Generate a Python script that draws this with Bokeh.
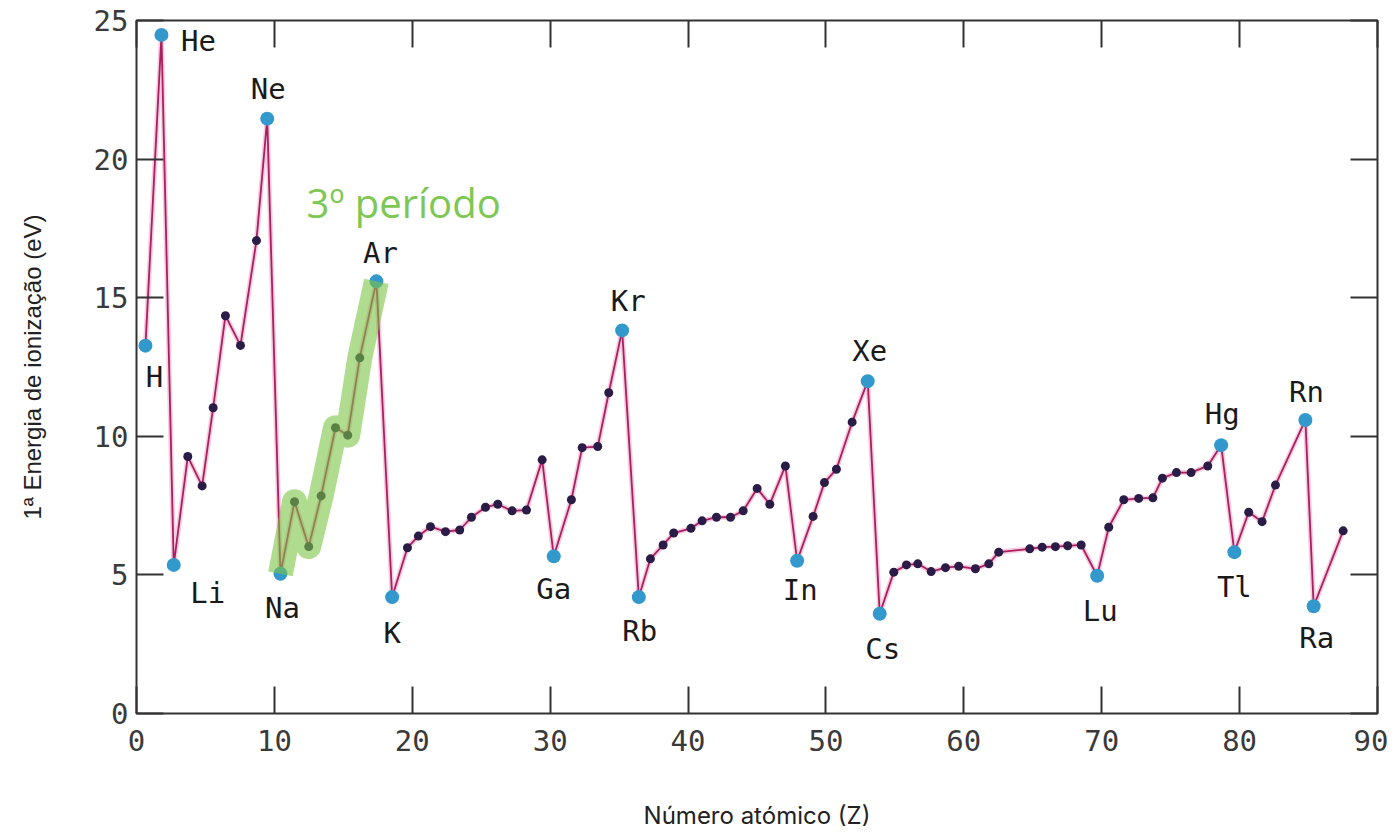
from bokeh.plotting import figure
from bokeh.models import ColumnDataSource, Label, LinearAxis, FixedTicker, Range1d
from bokeh.core.properties import value
from bokeh.embed import file_html
from bokeh.resources import INLINE

# ---------------- data ----------------
simbolos = ["H", "He", "Li", "Be", "B", "C", "N", "O", "F", "Ne",
            "Na", "Mg", "Al", "Si", "P", "S", "Cl", "Ar", "K", "Ca",
            "Sc", "Ti", "V", "Cr", "Mn", "Fe", "Co", "Ni", "Cu", "Zn",
            "Ga", "Ge", "As", "Se", "Br", "Kr", "Rb", "Sr", "Y", "Zr",
            "Nb", "Mo", "Tc", "Ru", "Rh", "Pd", "Ag", "Cd", "In", "Sn",
            "Sb", "Te", "I", "Xe", "Cs", "Ba", "La", "Ce", "Pr", "Nd",
            "Pm", "Sm", "Eu", "Gd", "Tb", "Dy", "Ho", "Er", "Tm", "Lu",
            "Hf", "Ta", "W", "Re", "Os", "Ir", "Pt", "Au", "Hg", "Tl",
            "Pb", "Bi", "Po", "Rn", "Ra", "Ac"]

numero_atomico = [0.65, 1.81, 2.70, 3.72, 4.76, 5.56, 6.45, 7.54, 8.70, 9.48,
                  10.44, 11.46, 12.49, 13.39, 14.43, 15.32, 16.19, 17.40, 18.54, 19.65,
                  20.44, 21.32, 22.41, 23.44, 24.29, 25.31, 26.20, 27.24, 28.28, 29.42,
                  30.26, 31.54, 32.32, 33.45, 34.25, 35.22, 36.43, 37.27, 38.19, 38.96,
                  40.21, 41.02, 42.06, 43.08, 44.00, 45.01, 45.93, 47.06, 47.91, 49.07,
                  49.89, 50.76, 51.90, 53.03, 53.90, 54.92, 55.84, 56.66, 57.63, 58.67,
                  59.63, 60.84, 61.81, 62.53, 64.78, 65.68, 66.64, 67.53, 68.51, 69.67,
                  70.51, 71.60, 72.68, 73.71, 74.40, 75.42, 76.48, 77.69, 78.66, 79.62,
                  80.66, 81.63, 82.60, 84.77, 85.37, 87.51]

energia_ev = [13.27, 24.48, 5.36, 9.27, 8.21, 11.03, 14.35, 13.28, 17.06, 21.46,
              5.04, 7.64, 6.02, 7.85, 10.31, 10.04, 12.83, 15.59, 4.20, 5.98,
              6.40, 6.74, 6.56, 6.62, 7.08, 7.44, 7.55, 7.31, 7.34, 9.15,
              5.67, 7.71, 9.59, 9.63, 11.57, 13.82, 4.20, 5.58, 6.08, 6.51,
              6.68, 6.95, 7.08, 7.08, 7.31, 8.12, 7.55, 8.93, 5.51, 7.11,
              8.33, 8.81, 10.51, 11.99, 3.60, 5.10, 5.36, 5.40, 5.12, 5.26,
              5.31, 5.22, 5.40, 5.82, 5.94, 6.00, 6.02, 6.05, 6.08, 4.97,
              6.72, 7.71, 7.76, 7.78, 8.49, 8.69, 8.69, 8.93, 9.68, 5.82,
              7.26, 6.92, 8.24, 10.59, 3.87, 6.59]

rotulados = ["H", "He", "Li", "Ne", "Na", "Ar", "K", "Ga", "Kr", "Rb",
             "In", "Xe", "Cs", "Lu", "Hg", "Tl", "Rn", "Ra"]

terceiro_periodo = ["Na", "Mg", "Al", "Si", "P", "S", "Cl", "Ar"]

x_ticks = [0, 10, 20, 30, 40, 50, 60, 70, 80, 90]
y_ticks = [0, 5, 10, 15, 20, 25]

# label placement (screen px offsets from the point)
desloc_rotulo = {"H": (9, 31), "He": (37, 6), "Li": (34, 28), "Ne": (1, -30),
                 "Na": (2, 34), "Ar": (4, -28), "K": (0, 36), "Ga": (0, 33),
                 "Kr": (6, -29), "Rb": (1, 34), "In": (3, 29), "Xe": (2, -30),
                 "Cs": (3, 35), "Lu": (3, 35), "Hg": (1, -31), "Tl": (0, 35),
                 "Rn": (1, -28), "Ra": (3, 32)}

# ---------------- figure ----------------
p = figure(width=1388, height=832, x_range=Range1d(0, 90), y_range=Range1d(0, 25),
           output_backend="svg", toolbar_location=None,
           min_border_left=136, min_border_right=11, min_border_top=20, min_border_bottom=117,
           background_fill_color="white", border_fill_color="white")
p.grid.visible = False
p.outline_line_color = "#333333"
p.outline_line_width = 2

for ax, tk in ((p.xaxis[0], x_ticks), (p.yaxis[0], y_ticks)):
    ax.ticker = FixedTicker(ticks=tk)
    ax.axis_line_color = None
    ax.major_tick_in = 27
    ax.major_tick_out = 0
    ax.major_tick_line_width = 2
    ax.major_tick_line_color = "#333333"
    ax.minor_tick_line_color = None
    ax.major_label_text_font = "DejaVu Sans Mono"
    ax.major_label_text_font_size = "29px"
    ax.major_label_text_color = "#3a3a3a"
p.xaxis.major_label_standoff = 16
p.yaxis.major_label_standoff = 8

p.xaxis.axis_label = "Número atómico (Z)"
p.xaxis.axis_label_text_font = "Inter"
p.xaxis.axis_label_text_font_size = "24px"
p.xaxis.axis_label_text_font_style = "normal"
p.xaxis.axis_label_text_color = "#222222"
p.xaxis.axis_label_standoff = 47

p.yaxis.axis_label = "1ª Energia de ionização (eV)"
p.yaxis.axis_label_text_font = "Liberation Sans"
p.yaxis.axis_label_text_font_size = "24px"
p.yaxis.axis_label_text_font_style = "normal"
p.yaxis.axis_label_text_color = "#222222"
p.yaxis.axis_label_standoff = 45

for side, tk in (("above", x_ticks), ("right", y_ticks)):
    ax = LinearAxis(ticker=FixedTicker(ticks=tk), major_label_text_alpha=0.0,
                    major_label_text_font_size="1px")
    ax.axis_line_color = None
    ax.major_tick_in = 27
    ax.major_tick_out = 0
    ax.major_tick_line_width = 2
    ax.major_tick_line_color = "#333333"
    ax.minor_tick_line_color = None
    ax.major_label_standoff = 0
    ax.major_label_overrides = {t: "" for t in tk}
    p.add_layout(ax, side)

# ---------------- data marks ----------------
src = ColumnDataSource(dict(x=numero_atomico, y=energia_ev, s=simbolos))
p.line("x", "y", source=src, line_color="#f2a9cc", line_width=5, line_alpha=0.6)
p.line("x", "y", source=src, line_color="#a8205f", line_width=1.8)

idx_rot = [simbolos.index(s) for s in rotulados]
idx_esc = [i for i in range(len(simbolos)) if simbolos[i] not in rotulados]
esc = ColumnDataSource(dict(x=[numero_atomico[i] for i in idx_esc],
                            y=[energia_ev[i] for i in idx_esc]))
p.scatter("x", "y", source=esc, size=9, fill_color="#2a1b47", line_color=None)

rot = ColumnDataSource(dict(x=[numero_atomico[i] for i in idx_rot],
                            y=[energia_ev[i] for i in idx_rot],
                            s=rotulados,
                            dx=[desloc_rotulo[s][0] for s in rotulados],
                            dy=[desloc_rotulo[s][1] for s in rotulados]))
p.scatter("x", "y", source=rot, size=14, fill_color="#3399cc", line_color=None)
p.text("x", "y", text="s", source=rot, x_offset="dx", y_offset="dy",
       text_font=value("DejaVu Sans Mono"), text_font_size="29px",
       text_color="#1a1a1a", text_align="center", text_baseline="middle")

# ---------------- 3rd period highlight ----------------
idx_p3 = [simbolos.index(s) for s in terceiro_periodo]
p.line([numero_atomico[i] for i in idx_p3], [energia_ev[i] for i in idx_p3],
       line_color="#7cc444", line_alpha=0.6, line_width=25,
       line_join="round", line_cap="butt")
p.add_layout(Label(x=12.33, y=18.42, text="3º período", text_font="Open Sans",
                   text_font_size="40px", text_color="#7dc855",
                   text_align="left", text_baseline="alphabetic"))

open("out.html", "w").write(file_html(p, INLINE))
